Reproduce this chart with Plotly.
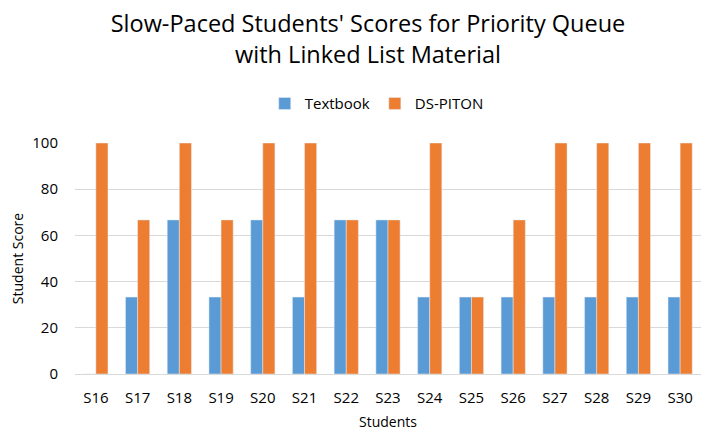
import plotly.graph_objects as go

students = ["S16", "S17", "S18", "S19", "S20", "S21", "S22", "S23", "S24", "S25", "S26", "S27", "S28", "S29", "S30"]
textbook = [0, 33.3, 66.7, 33.3, 66.7, 33.3, 66.7, 66.7, 33.3, 33.3, 33.3, 33.3, 33.3, 33.3, 33.3]
ds_piton = [100, 66.7, 100, 66.7, 100, 100, 66.7, 66.7, 100, 33.3, 66.7, 100, 100, 100, 100]
y_ticks = [0, 20, 40, 60, 80, 100]

font_family = "Open Sans, Liberation Sans, sans-serif"

fig = go.Figure()
fig.add_trace(go.Bar(name="Textbook", x=students, y=textbook, marker_color="#5B9BD5"))
fig.add_trace(go.Bar(name="DS-PITON", x=students, y=ds_piton, marker_color="#ED7D31"))

fig.update_layout(
    width=705, height=431,
    paper_bgcolor="white", plot_bgcolor="white",
    barmode="group", bargap=0.42, bargroupgap=0,
    margin=dict(l=75, r=4, t=143, b=57, autoexpand=False),
    font=dict(family=font_family, color="#000000"),
    title=dict(
        text="Slow-Paced Students' Scores for Priority Queue<br>with Linked List Material",
        x=368 / 705, xanchor="center", xref="container",
        y=1 - 32 / 431, yanchor="middle", yref="container",
        font=dict(size=23.5, family=font_family, color="#000000"),
    ),
    legend=dict(
        orientation="h", x=0.482, xanchor="center", y=1.17, yanchor="middle",
        font=dict(size=15, family=font_family, color="#000000"),
        itemwidth=30, traceorder="normal",
    ),
    xaxis=dict(
        title=dict(text="Students", font=dict(size=14), standoff=12),
        tickfont=dict(size=15),
        showgrid=False, showline=True, linecolor="#D9D9D9", linewidth=1,
        ticks="", ticklabelstandoff=10, automargin=False,
    ),
    yaxis=dict(
        title=dict(text="Student Score", font=dict(size=14), standoff=5),
        range=[0, 100], tickvals=y_ticks, tickfont=dict(size=15),
        showgrid=True, gridcolor="#D9D9D9", gridwidth=1,
        zeroline=True, zerolinecolor="#D9D9D9", zerolinewidth=1,
        ticks="", ticklabelstandoff=16, automargin=False,
    ),
)

fig.write_html(
    "out.html",
    config={"displayModeBar": False},
    post_script="document.body.style.margin='0';",
)
